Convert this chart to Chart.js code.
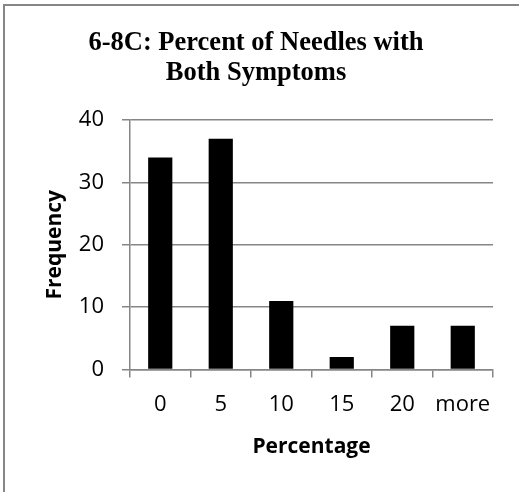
<!DOCTYPE html>
<html><head><meta charset="utf-8">
<script src="https://cdn.jsdelivr.net/npm/chart.js@4"></script>
<style>html,body{margin:0;padding:0;background:#fff}#wrap{width:519px;height:492px}</style>
</head><body><div id="wrap"><canvas id="c" width="519" height="492"></canvas></div>
<script>
const categories = ['0', '5', '10', '15', '20', 'more'];
const frequency = [34, 37, 11, 2, 7, 7];
const yTicks = [0, 10, 20, 30, 40];
const titleLines = ['6-8C: Percent of Needles with', 'Both Symptoms'];
const xTitle = 'Percentage';
const yTitle = 'Frequency';

const GRAY = '#868686';
const frame = {
  id: 'frame',
  afterDraw(chart) {
    const ctx = chart.ctx;
    const ca = chart.chartArea;
    ctx.save();
    ctx.strokeStyle = GRAY;
    ctx.lineWidth = 2;
    ctx.strokeRect(4, 5, 600, 600);
    // vertical axis title
    ctx.translate(55, (ca.top + ca.bottom) / 2);
    ctx.rotate(-Math.PI / 2);
    ctx.fillStyle = '#000';
    ctx.font = 'bold 21px "Open Sans"';
    ctx.textAlign = 'center';
    ctx.textBaseline = 'middle';
    ctx.fillText(yTitle, 0, 0);
    ctx.restore();
  }
};

new Chart(document.getElementById('c'), {
  type: 'bar',
  data: {
    labels: categories,
    datasets: [{
      data: frequency,
      backgroundColor: '#000',
      borderWidth: 0,
      categoryPercentage: 1,
      barPercentage: 0.4,
      yAxisID: 'y'
    }]
  },
  options: {
    responsive: false,
    animation: false,
    layout: { padding: { left: 0, right: 7, top: 0, bottom: 0 } },
    plugins: {
      legend: { display: false },
      tooltip: { enabled: false },
      title: {
        display: true,
        text: titleLines,
        color: '#000',
        font: { family: 'Liberation Serif', size: 26.5, weight: 'bold', lineHeight: 1.12 },
        padding: { top: 28.6, bottom: 32 }
      }
    },
    scales: {
      x: {
        offset: true,
        grid: { display: true, drawOnChartArea: false, drawTicks: true, tickLength: 8, color: GRAY, lineWidth: 1.5, offset: true },
        border: { display: true, color: GRAY, width: 1.5 },
        ticks: { color: '#000', font: { family: 'Open Sans', size: 22 }, padding: 14, maxRotation: 0, autoSkip: false },
        title: { display: true, text: xTitle, color: '#000', font: { family: 'Open Sans', size: 21, weight: 'bold' }, padding: { top: 0, bottom: 32.4 } },
        afterFit(s) { s.height = 122.5; }
      },
      y: {
        position: 'left',
        min: 0,
        max: 40,
        afterBuildTicks(s) { s.ticks = yTicks.map(v => ({ value: v })); },
        grid: { color: GRAY, lineWidth: 1.5, tickLength: 8 },
        border: { display: true, color: GRAY, width: 1.5 },
        ticks: { color: '#000', font: { family: 'Open Sans', size: 22 }, padding: 18 },
        title: { display: false },
        afterFit(s) { s.width = 130; }
      },
      yR: {
        position: 'right',
        display: true,
        grid: { display: false },
        border: { display: false },
        ticks: { display: false },
        afterFit(s) { s.width = 19; }
      }
    }
  },
  plugins: [frame]
});
</script>
</body></html>
